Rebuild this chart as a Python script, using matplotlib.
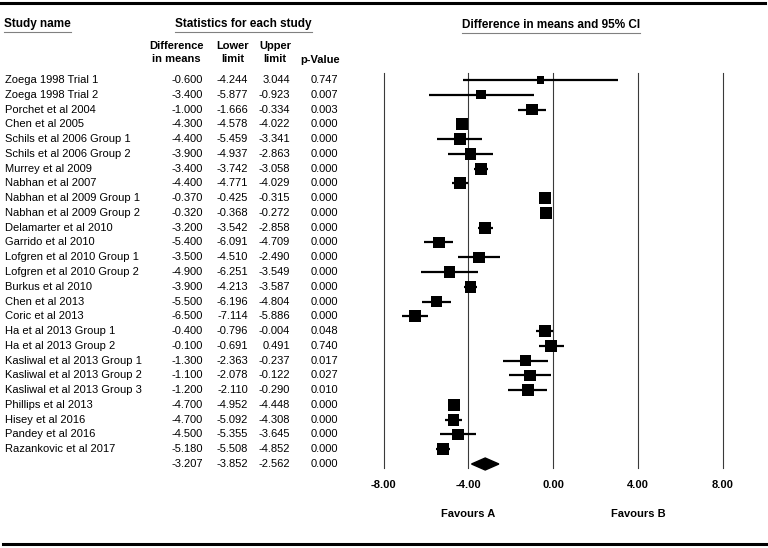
# 森林图：Difference in means and 95% CI
import matplotlib
matplotlib.use("Agg")
import matplotlib.pyplot as plt
from matplotlib.lines import Line2D
from matplotlib import transforms
import numpy as np

studies = ['Zoega 1998 Trial 1', 'Zoega 1998 Trial 2', 'Porchet et al 2004',
           'Chen et al 2005', 'Schils et al 2006 Group 1', 'Schils et al 2006 Group 2',
           'Murrey et al 2009', 'Nabhan et al 2007', 'Nabhan et al 2009 Group 1',
           'Nabhan et al 2009 Group 2', 'Delamarter et al 2010', 'Garrido et al 2010',
           'Lofgren et al 2010 Group 1', 'Lofgren et al 2010 Group 2', 'Burkus et al 2010',
           'Chen et al 2013', 'Coric et al 2013', 'Ha et al 2013 Group 1',
           'Ha et al 2013 Group 2', 'Kasliwal et al 2013 Group 1',
           'Kasliwal et al 2013 Group 2', 'Kasliwal et al 2013 Group 3',
           'Phillips et al 2013', 'Hisey et al 2016', 'Pandey et al 2016',
           'Razankovic et al 2017']
diff = [-0.600, -3.400, -1.000, -4.300, -4.400, -3.900, -3.400, -4.400, -0.370, -0.320,
        -3.200, -5.400, -3.500, -4.900, -3.900, -5.500, -6.500, -0.400, -0.100, -1.300,
        -1.100, -1.200, -4.700, -4.700, -4.500, -5.180]
lower = [-4.244, -5.877, -1.666, -4.578, -5.459, -4.937, -3.742, -4.771, -0.425, -0.368,
         -3.542, -6.091, -4.510, -6.251, -4.213, -6.196, -7.114, -0.796, -0.691, -2.363,
         -2.078, -2.110, -4.952, -5.092, -5.355, -5.508]
upper = [3.044, -0.923, -0.334, -4.022, -3.341, -2.863, -3.058, -4.029, -0.315, -0.272,
         -2.858, -4.709, -2.490, -3.549, -3.587, -4.804, -5.886, -0.004, 0.491, -0.237,
         -0.122, -0.290, -4.448, -4.308, -3.645, -4.852]
pvals = [0.747, 0.007, 0.003, 0.000, 0.000, 0.000, 0.000, 0.000, 0.000, 0.000,
         0.000, 0.000, 0.000, 0.000, 0.000, 0.000, 0.000, 0.048, 0.740, 0.017,
         0.027, 0.010, 0.000, 0.000, 0.000, 0.000]
summary = [-3.207, -3.852, -2.562, 0.000]  # 合并效应: 均值, 下限, 上限, p
x_ticks = [-8, -4, 0, 4, 8]

plt.rcParams['font.family'] = ['Liberation Sans', 'DejaVu Sans']
plt.rcParams['font.size'] = 8

W, H = 768, 548
fig = plt.figure(figsize=(W / 100, H / 100), dpi=100)


def fx(px):
    return px / W


def fy(py):
    return 1 - py / H


n = len(studies)
first_px, last_px = 80, 464  # 第一行与合并行的像素位置
row_h = (last_px - first_px) / n
top_px, bot_px = 73, 468
ax = fig.add_axes([fx(383.5), fy(bot_px), (723 - 383.5) / W, (bot_px - top_px) / H])
ax.set_xlim(-8, 8)
ax.set_ylim(n + (bot_px - last_px) / row_h, -(first_px - top_px) / row_h)
for s in ax.spines.values():
    s.set_visible(False)
ax.set_yticks([])
ax.set_xticks(x_ticks)
ax.set_xticklabels([f"{t:.2f}" for t in x_ticks], fontweight='bold')
ax.tick_params(axis='x', length=0, pad=9)

for t in x_ticks:
    ax.axvline(t, color='#3a3a3a', lw=0.8, clip_on=False, zorder=1)

# 随机效应权重 -> 方块大小
y = np.array(diff)
se = (np.array(upper) - np.array(lower)) / (2 * 1.96)
w = 1 / se ** 2
ybar = np.sum(w * y) / np.sum(w)
Q = np.sum(w * (y - ybar) ** 2)
C = np.sum(w) - np.sum(w ** 2) / np.sum(w)
tau2 = max(0.0, (Q - (n - 1)) / C)
wr = 1 / (se ** 2 + tau2)
side_pt = 12 * np.sqrt(wr / wr.max()) * 0.72

rows = np.arange(n)
ax.hlines(rows, lower, upper, color='black', lw=1.6, zorder=2, clip_on=False)
ax.scatter(diff, rows, marker='s', s=side_pt ** 2, color='black', zorder=3,
           linewidths=0, clip_on=False)

# 合并效应菱形
m, lo, hi = summary[0], summary[1], summary[2]
hh = 6 / row_h
ax.fill([lo, m, hi, m], [n, n - hh, n, n + hh], color='black', zorder=3, clip_on=False)

# 左侧表格
tr = transforms.blended_transform_factory(fig.transFigure, ax.transData)
cols_r = [203, 248, 290, 338]
for i in range(n):
    ax.text(fx(5), i, studies[i], transform=tr, va='center', ha='left')
    vals = [f"{diff[i]:.3f}", f"{lower[i]:.3f}", f"{upper[i]:.3f}", f"{pvals[i]:.3f}"]
    for xr, v in zip(cols_r, vals):
        ax.text(fx(xr), i, v, transform=tr, va='center', ha='right')
svals = [f"{summary[0]:.3f}", f"{summary[1]:.3f}", f"{summary[2]:.3f}", f"{summary[3]:.3f}"]
for xr, v in zip(cols_r, svals):
    ax.text(fx(xr), n, v, transform=tr, va='center', ha='right')

# 表头
h1 = fig.text(fx(4), fy(24), 'Study name', fontweight='bold', fontsize=8.5,
              ha='left', va='center')
h2 = fig.text(fx(243.5), fy(24), 'Statistics for each study', fontweight='bold',
              fontsize=8.5, ha='center', va='center')
h3 = fig.text(fx(551), fy(25), 'Difference in means and 95% CI', fontweight='bold',
              fontsize=8.5, ha='center', va='center')
col_heads = ['Difference\nin means', 'Lower\nlimit', 'Upper\nlimit', 'p-Value']
for xr, txt in zip(cols_r[:3], col_heads[:3]):
    fig.text(fx(xr + 1), fy(52.5), txt, fontweight='bold', ha='right', va='center',
             multialignment='center', linespacing=1.4)
fig.text(fx(340), fy(60), col_heads[3], fontweight='bold', ha='right', va='center')

# Favours A / B
trf = transforms.blended_transform_factory(ax.transData, fig.transFigure)
ax.text(-4, fy(514), 'Favours A', transform=trf, fontweight='bold', ha='center', va='center')
ax.text(4, fy(514), 'Favours B', transform=trf, fontweight='bold', ha='center', va='center')

# 上下粗线
fig.add_artist(Line2D([fx(0), fx(765)], [fy(3), fy(3)], color='black', lw=2.2))
fig.add_artist(Line2D([fx(3), fx(766)], [fy(544), fy(544)], color='black', lw=2.2))

# 表头下划线
fig.canvas.draw()
renderer = fig.canvas.get_renderer()
for h in [h1, h2, h3]:
    bb = h.get_window_extent(renderer)
    yline = (bb.y0 - 2) / H
    fig.add_artist(Line2D([bb.x0 / W, bb.x1 / W], [yline, yline], color='#808080', lw=0.8))

fig.savefig('out.png', dpi=100)
